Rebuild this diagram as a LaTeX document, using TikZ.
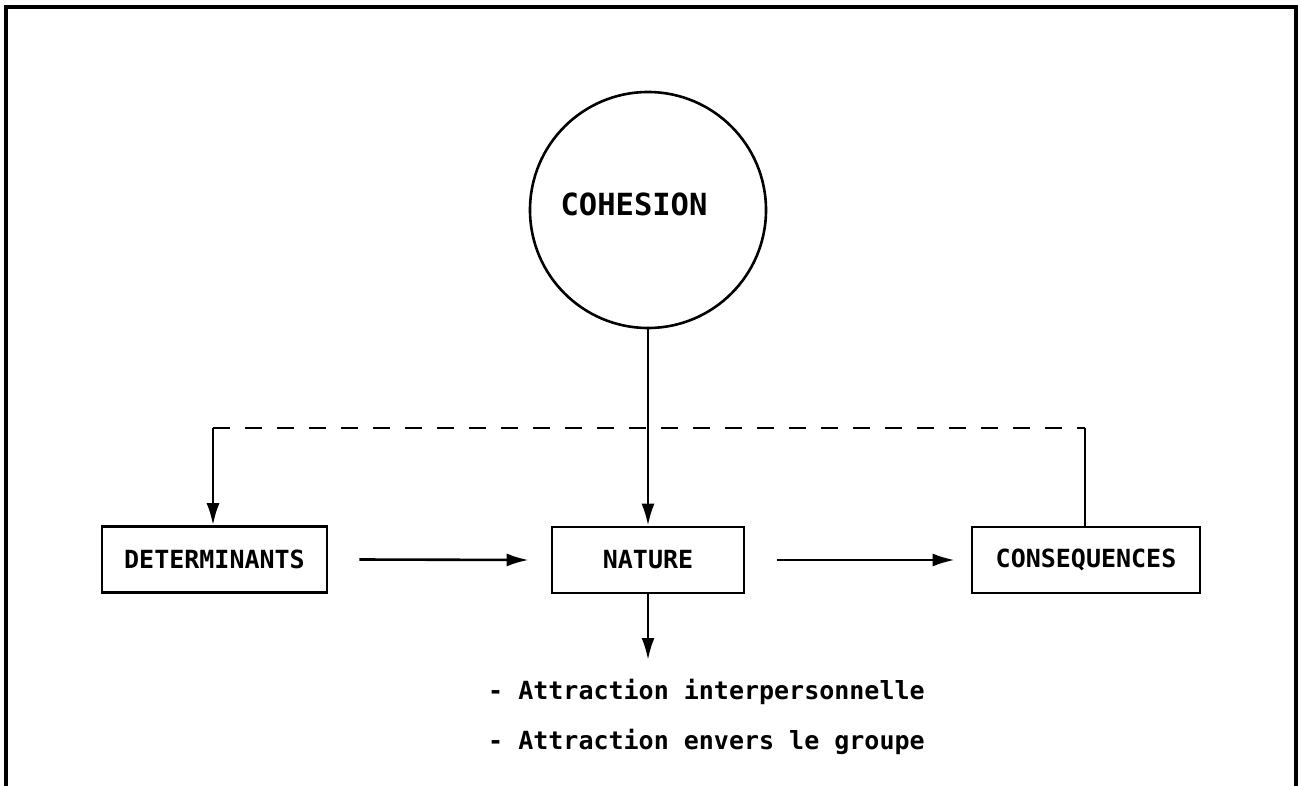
\documentclass[tikz,border=0pt]{standalone}
\usepackage{fontspec}
\newfontfamily\tw{DejaVu Sans Mono}
\usetikzlibrary{arrows.meta}
\begin{document}
\begin{tikzpicture}[x=1pt,y=-1pt,
  every node/.style={font=\tw\bfseries\fontsize{25}{30}\selectfont},
  box/.style={draw,line width=2.6,minimum height=66,inner sep=0},
  link/.style={line width=2.6},
  arr/.style={link,-{Latex[length=22,width=13]}},
  dashlink/.style={line width=2.8,dash pattern=on 17 off 15}]
  \useasboundingbox (0,0) rectangle (1301,786);
  % open frame
  \draw[line width=3.5] (6,790) -- (6,7) -- (1296,7) -- (1296,790);
  % central circle
  \node[draw,circle,line width=2.6,minimum size=236,inner sep=0] (coh) at (648,210) {};
  \node[font=\tw\bfseries\fontsize{30.5}{36}\selectfont] (cohlabel) at (634,204) {COHESION};
  % boxes
  \node[box,minimum width=225] (det) at (214.5,559.5) {DETERMINANTS};
  \node[box,minimum width=192] (nat) at (648,560) {NATURE};
  \node[box,minimum width=228] (cons) at (1086,560) {CONSEQUENCES};
  % feedback loop
  \coordinate (dl) at (213,428);
  \coordinate (dr) at (1085,428);
  \draw[dashlink] (dl) -- (dr);
  \draw[link] (cons.north -| dr) -- (dr);
  \draw[arr] (dl) -- (det.north -| dl);
  % main flow
  \draw[arr] (coh.south) -- (nat.north);
  \draw[arr] ([xshift=31]det.east) -- ([xshift=-22]nat.west);
  \draw[arr] ([xshift=32]nat.east) -- ([xshift=-16]cons.west);
  \coordinate (natend) at (648,660);
  \draw[arr] (nat.south) -- (natend);
  % list
  \node[anchor=base west,inner sep=0] (l1) at (488,699) {- Attraction interpersonnelle};
  \node[anchor=base west,inner sep=0] (l2) at (488,749) {- Attraction envers le groupe};
\end{tikzpicture}
\end{document}
